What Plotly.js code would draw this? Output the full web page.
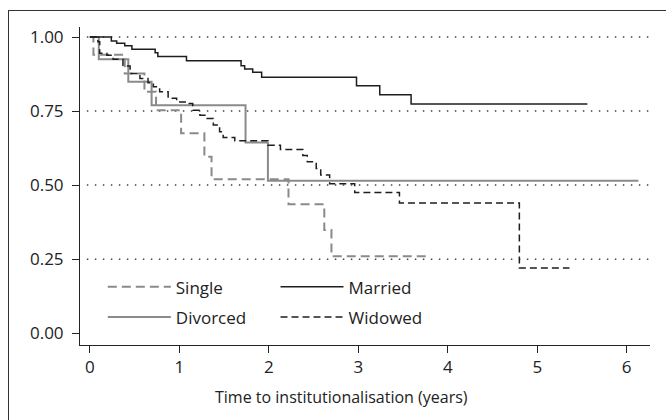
<!DOCTYPE html>
<html>
<head>
<meta charset="utf-8">
<script src="https://cdn.plot.ly/plotly-3.0.1.min.js"></script>
<style>
  html, body { margin: 0; padding: 0; background: #fff; overflow: hidden; }
  #frame { position: absolute; left: 8px; top: 10px; width: 700px; height: 500px;
           border-left: 1.5px solid #333; border-top: 1.5px solid #333; }
  #chart { position: absolute; left: 0; top: 0; width: 666px; height: 420px; }
</style>
</head>
<body>
<div id="frame"></div>
<div id="chart"></div>
<script>
// Kaplan-Meier step data (time in years, survival proportion)
const singleT   = [0, 0.04, 0.39, 0.61, 0.74, 1.02, 1.28, 1.36, 2.22, 2.62, 2.70, 3.76];
const singleS   = [1, 0.94, 0.877, 0.815, 0.753, 0.675, 0.596, 0.52, 0.435, 0.348, 0.26, 0.26];

const marriedT  = [0, 0.24, 0.30, 0.39, 0.47, 0.73, 0.76, 1.08, 1.69, 1.73, 1.82, 1.92, 2.98, 3.24, 3.59, 5.56];
const marriedS  = [1, 0.987, 0.979, 0.971, 0.959, 0.947, 0.934, 0.920, 0.903, 0.892, 0.881, 0.864, 0.836, 0.805, 0.774, 0.774];

const divorcedT = [0, 0.10, 0.43, 0.69, 1.74, 1.99, 6.13];
const divorcedS = [1, 0.925, 0.849, 0.770, 0.644, 0.515, 0.515];

const widowedT  = [0, 0.09, 0.11, 0.19, 0.26, 0.37, 0.45, 0.56, 0.65, 0.71, 0.78, 0.875, 0.97, 1.08, 1.15, 1.23, 1.30, 1.38, 1.45, 1.49, 1.62, 1.99, 2.13, 2.38, 2.43, 2.53, 2.58, 2.68, 2.96, 3.46, 4.80, 5.36];
const widowedS  = [1, 0.984, 0.945, 0.939, 0.925, 0.902, 0.877, 0.860, 0.846, 0.832, 0.815, 0.793, 0.781, 0.776, 0.753, 0.736, 0.725, 0.703, 0.680, 0.661, 0.650, 0.635, 0.620, 0.600, 0.579, 0.556, 0.534, 0.505, 0.475, 0.44, 0.22, 0.22];

const xTicks = [0, 1, 2, 3, 4, 5, 6];
const yTicks = [0, 0.25, 0.5, 0.75, 1];
const yTickText = ['0.00', '0.25', '0.50', '0.75', '1.00'];
const gridLevels = [0.25, 0.5, 0.75, 1];
const xTitle = 'Time to institutionalisation (years)';

const FONT = 'Open Sans, sans-serif';
const FS = 16;
const TFS = 17;
const GRAY = '#8a8a8a';
const BLACK = '#1e1e1e';

const traces = [
  { x: singleT, y: singleS, name: 'Single', mode: 'lines', line: { shape: 'hv', color: GRAY, width: 2, dash: '9px,5px' }, legend: 'legend', legendgroup: 'a' },
  { x: divorcedT, y: divorcedS, name: 'Divorced', mode: 'lines', line: { shape: 'hv', color: GRAY, width: 2 }, legend: 'legend', legendgroup: 'b' },
  { x: marriedT, y: marriedS, name: 'Married', mode: 'lines', line: { shape: 'hv', color: BLACK, width: 1.5 }, legend: 'legend2', legendgroup: 'c' },
  { x: widowedT, y: widowedS, name: 'Widowed', mode: 'lines', line: { shape: 'hv', color: BLACK, width: 1.5, dash: '7px,4px' }, legend: 'legend2', legendgroup: 'd' }
];

const legendCommon = {
  orientation: 'v', yanchor: 'top', y: 0.238, bgcolor: 'rgba(0,0,0,0)',
  font: { family: FONT, size: TFS, color: '#222' }, itemwidth: 63, tracegroupgap: 5,
  traceorder: 'grouped'
};

const layout = {
  width: 666, height: 420,
  margin: { l: 80, r: 16, t: 27, b: 75 },
  paper_bgcolor: 'rgba(0,0,0,0)', plot_bgcolor: 'rgba(0,0,0,0)',
  font: { family: FONT, size: FS, color: '#222' },
  showlegend: true,
  legend: Object.assign({}, legendCommon, { x: 0.04 }),
  legend2: Object.assign({}, legendCommon, { x: 0.343 }),
  xaxis: {
    range: [-0.11, 6.26], tickvals: xTicks, ticks: 'outside', ticklen: 7, tickcolor: '#222',
    showline: true, linecolor: '#222', linewidth: 1, showgrid: false, zeroline: false,
    tickfont: { family: FONT, size: TFS, color: '#222' }
  },
  yaxis: {
    range: [-0.04, 1.034], tickvals: yTicks, ticktext: yTickText, ticks: 'outside', ticklen: 7, tickcolor: '#222',
    showline: true, linecolor: '#222', linewidth: 1, showgrid: false, zeroline: false,
    ticklabelstandoff: 5,
    tickfont: { family: FONT, size: TFS, color: '#222' }
  },
  annotations: [{
    text: xTitle, xref: 'paper', yref: 'paper', x: 0.459, y: -0.165,
    xanchor: 'center', yanchor: 'middle', showarrow: false,
    font: { family: FONT, size: FS, color: '#222' }
  }],
  shapes: gridLevels.map(v => ({
    type: 'line', xref: 'paper', yref: 'y', x0: 0.012, x1: 1, y0: v, y1: v, layer: 'below',
    line: { color: '#444', width: 1.5, dash: '1.5px,6.5px' }
  }))
};

Plotly.newPlot('chart', traces, layout, { displayModeBar: false, staticPlot: true });
</script>
</body>
</html>
